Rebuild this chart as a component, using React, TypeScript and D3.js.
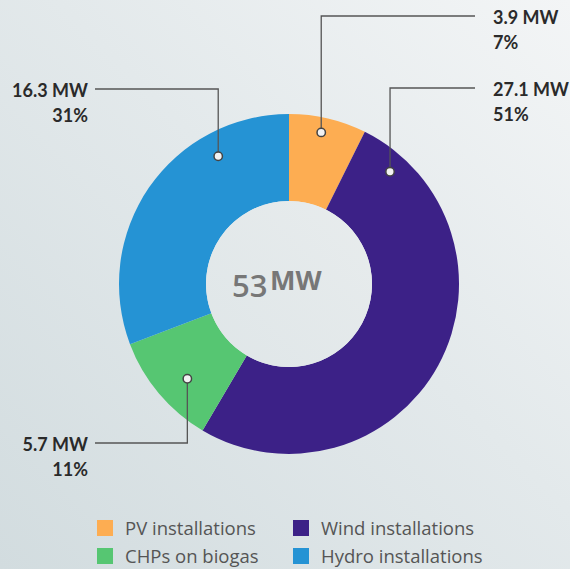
import React from "react";
import * as d3 from "d3";

const categories = ["PV installations", "Wind installations", "CHPs on biogas", "Hydro installations"];
const valuesMW = [3.9, 27.1, 5.7, 16.3];
const percentLabels = ["7%", "51%", "11%", "31%"];
const colors = ["#FDAD52", "#3C2187", "#56C672", "#2593D4"];
const totalLabel = "53";
const unitLabel = "MW";
// leader annotation config: anchor angle (deg, clockwise from top), anchor radius, label row y, side
const anchorAngles = [12, 42, 227, 331];
const anchorRadii = [155, 151, 139, 146];
const labelRowsY = [16, 88, 443, 89];
const labelSides = ["right", "right", "left", "left"];
const legendOrder = [0, 1, 2, 3];

const W = 570;
const H = 569;
const cx = 289;
const cy = 284;
const outerR = 170;
const innerR = 83;
const rightLineEnd = 475;
const leftLineEnd = 95;

export default function App() {
  const data = categories.map((c, i) => ({ name: c, value: valuesMW[i], pct: percentLabels[i], color: colors[i], i }));
  const pie = d3.pie<any>().value((d) => d.value).sort(null);
  const arcs = pie(data);
  const arc = d3.arc<any>().innerRadius(innerR).outerRadius(outerR);

  const labelFont = "Lato, 'Open Sans', sans-serif";

  return (
    <svg width={W} height={H} style={{ position: "absolute", left: 0, top: 0 }}>
      <defs>
        <linearGradient id="bg" x1="0" y1="1" x2="1" y2="0">
          <stop offset="0" stopColor="#d2dcdf" />
          <stop offset="0.55" stopColor="#e3e9eb" />
          <stop offset="1" stopColor="#f3f5f6" />
        </linearGradient>
        <linearGradient id="hole" x1="0" y1="1" x2="1" y2="0">
          <stop offset="0" stopColor="#dfe6e8" />
          <stop offset="1" stopColor="#e8eced" />
        </linearGradient>
      </defs>
      <rect x={0} y={0} width={W} height={H} fill="url(#bg)" />
      <g transform={`translate(${cx},${cy})`}>
        {arcs.map((a) => (
          <path key={a.data.name} d={arc(a) as string} fill={a.data.color} />
        ))}
        <circle r={innerR} fill="url(#hole)" />
      </g>
      <text x={cx - 57} y={cy + 13} fill="#777" fontFamily="'Open Sans', sans-serif" fontSize={31} fontWeight={600}>
        {totalLabel}
      </text>
      <text x={cx - 19} y={cy + 6} fill="#777" fontFamily="'Open Sans', sans-serif" fontSize={27} fontWeight={700}>
        {unitLabel}
      </text>
      {data.map((d, i) => {
        const ang = (anchorAngles[i] * Math.PI) / 180;
        const px = cx + anchorRadii[i] * Math.sin(ang);
        const py = cy - anchorRadii[i] * Math.cos(ang);
        const ly = labelRowsY[i];
        const right = labelSides[i] === "right";
        const endX = right ? rightLineEnd : leftLineEnd;
        const tx = right ? 493 : 88;
        const anchor = right ? "start" : "end";
        return (
          <g key={d.name}>
            <path d={`M${px},${py}V${ly}H${endX}`} fill="none" stroke="#555" strokeWidth={1.3} />
            <circle cx={px} cy={py} r={4.2} fill="#f2f2f2" stroke="#444" strokeWidth={1.5} />
            <text x={tx} y={ly + 8} textAnchor={anchor} fill="#2a2a2a" fontFamily={labelFont} fontSize={18} fontWeight={700}>
              {d.value.toFixed(1)} MW
            </text>
            <text x={tx} y={ly + 33} textAnchor={anchor} fill="#2a2a2a" fontFamily={labelFont} fontSize={18} fontWeight={700}>
              {d.pct}
            </text>
          </g>
        );
      })}
      {legendOrder.map((idx, k) => {
        const col = k % 2;
        const row = Math.floor(k / 2);
        const sx = col === 0 ? 97 : 293;
        const sy = 520 + row * 28;
        return (
          <g key={categories[idx]}>
            <rect x={sx} y={sy} width={16} height={16} fill={colors[idx]} />
            <text x={sx + 28} y={sy + 15} fill="#555" fontFamily="'Open Sans', sans-serif" fontSize={18.5} fontWeight={400}>
              {categories[idx]}
            </text>
          </g>
        );
      })}
    </svg>
  );
}
